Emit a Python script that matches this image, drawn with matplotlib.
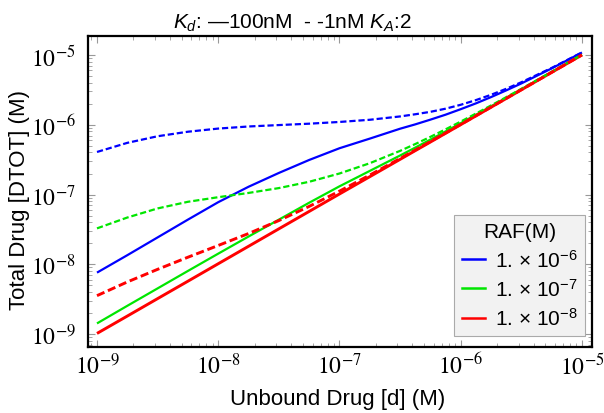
import matplotlib
matplotlib.use('Agg')
import matplotlib.pyplot as plt
from matplotlib.ticker import FixedLocator, LogLocator, NullFormatter
from matplotlib.lines import Line2D

# ---- data ----
unbound_drug = [1.0e-9, 1.778e-9, 3.162e-9, 5.623e-9, 1.0e-8, 1.778e-8, 3.162e-8, 5.623e-8,
                1.0e-7, 1.778e-7, 3.162e-7, 4.217e-7, 5.623e-7, 7.499e-7, 1.0e-6, 1.334e-6,
                1.778e-6, 2.371e-6, 3.162e-6, 5.623e-6, 1.0e-5]

# Kd = 100 nM (solid)
raf1e6_kd100 = [7.59e-9, 1.349e-8, 2.427e-8, 4.365e-8, 7.762e-8, 1.291e-7, 2.037e-7, 3.126e-7,
                4.603e-7, 6.324e-7, 8.770e-7, 1.012e-6, 1.183e-6, 1.393e-6, 1.671e-6, 2.023e-6,
                2.489e-6, 3.105e-6, 3.908e-6, 6.412e-6, 1.084e-5]
raf1e7_kd100 = [1.42e-9, 2.538e-9, 4.512e-9, 8.023e-9, 1.42e-8, 2.498e-8, 4.362e-8, 7.623e-8,
                1.31e-7, 2.178e-7, 3.622e-7, 4.702e-7, 6.128e-7, 8.019e-7, 1.0535e-6, 1.388e-6,
                1.834e-6, 2.428e-6, 3.219e-6, 5.681e-6, 1.0059e-5]
raf1e8_kd100 = [1.02e-9, 1.81e-9, 3.22e-9, 5.72e-9, 1.018e-8, 1.81e-8, 3.22e-8, 5.72e-8,
                1.017e-7, 1.80e-7, 3.19e-7, 4.25e-7, 5.65e-7, 7.53e-7, 1.003e-6, 1.337e-6,
                1.781e-6, 2.374e-6, 3.165e-6, 5.626e-6, 1.0003e-5]

# Kd = 1 nM (dashed)
raf1e6_kd1 = [4.07e-7, 5.50e-7, 6.84e-7, 7.94e-7, 8.81e-7, 9.44e-7, 9.89e-7, 1.035e-6,
              1.096e-6, 1.178e-6, 1.315e-6, 1.413e-6, 1.531e-6, 1.698e-6, 1.932e-6, 2.254e-6,
              2.685e-6, 3.273e-6, 4.064e-6, 6.516e-6, 1.089e-5]
raf1e7_kd1 = [3.27e-8, 4.677e-8, 6.316e-8, 7.862e-8, 9.15e-8, 1.053e-7, 1.236e-7, 1.522e-7,
              2.0e-7, 2.808e-7, 4.222e-7, 5.287e-7, 6.703e-7, 8.589e-7, 1.110e-6, 1.4435e-6,
              1.888e-6, 2.481e-6, 3.272e-6, 5.733e-6, 1.011e-5]
raf1e8_kd1 = [3.55e-9, 5.578e-9, 8.462e-9, 1.262e-8, 1.86e-8, 2.758e-8, 4.232e-8, 6.753e-8,
              1.117e-7, 1.898e-7, 3.284e-7, 4.340e-7, 5.747e-7, 7.624e-7, 1.0125e-6, 1.346e-6,
              1.791e-6, 2.384e-6, 3.175e-6, 5.636e-6, 1.0013e-5]

raf_labels = ["1. × 10$^{-6}$", "1. × 10$^{-7}$", "1. × 10$^{-8}$"]
raf_colors = ["#0000ff", "#00e600", "#ff0000"]
x_ticks = [1e-9, 1e-8, 1e-7, 1e-6, 1e-5]
x_tick_labels = [r"$10^{-9}$", r"$10^{-8}$", r"$10^{-7}$", r"$10^{-6}$", r"$10^{-5}$"]
y_ticks = [1e-9, 1e-8, 1e-7, 1e-6, 1e-5]
y_tick_labels = [r"$10^{-9}$", r"$10^{-8}$", r"$10^{-7}$", r"$10^{-6}$", r"$10^{-5}$"]

plt.rcParams['font.family'] = ['Liberation Sans', 'DejaVu Sans']
plt.rcParams['mathtext.fontset'] = 'custom'
plt.rcParams['mathtext.rm'] = 'Liberation Sans'
plt.rcParams['mathtext.it'] = 'Liberation Sans:italic'
plt.rcParams['mathtext.bf'] = 'Liberation Sans:bold'

fig = plt.figure(figsize=(6.04, 4.14), dpi=100)
ax = fig.add_axes([88/604, 1-348/414, (592-88)/604, (348-37)/414])
ax.set_xscale('log')
ax.set_yscale('log')

solid = [raf1e6_kd100, raf1e7_kd100, raf1e8_kd100]
dashed = [raf1e6_kd1, raf1e7_kd1, raf1e8_kd1]
lws = [1.6, 1.6, 2.1]
for ys, c, lw in zip(solid, raf_colors, lws):
    ax.plot(unbound_drug, ys, color=c, lw=lw, solid_capstyle='butt', solid_joinstyle='round')
for ys, c, lw in zip(dashed, raf_colors, lws):
    ax.plot(unbound_drug, ys, color=c, lw=lw, dashes=(2.8, 1.3))

ax.set_xlim(8.43e-10, 1.21e-5)
ax.set_ylim(6.52e-10, 1.87e-5)

ax.xaxis.set_major_locator(FixedLocator(x_ticks))
ax.yaxis.set_major_locator(FixedLocator(y_ticks))
ax.xaxis.set_minor_locator(LogLocator(base=10, subs=range(2, 10), numticks=20))
ax.yaxis.set_minor_locator(LogLocator(base=10, subs=range(2, 10), numticks=20))
ax.xaxis.set_minor_formatter(NullFormatter())
ax.yaxis.set_minor_formatter(NullFormatter())

ax.tick_params(which='both', direction='in', top=True, right=True, color='#999999')
ax.tick_params(which='major', length=5, width=0.8, labelsize=17)
ax.tick_params(which='minor', length=3, width=0.6)
ax.tick_params(axis='x', which='major', pad=4)
ax.tick_params(axis='y', which='major', pad=9)
ax.set_xticklabels(x_tick_labels, math_fontfamily='stix', fontsize=17)
ax.set_yticklabels(y_tick_labels, math_fontfamily='stix', fontsize=17)
for sp in ax.spines.values():
    sp.set_linewidth(1.6)
    sp.set_color('black')

handles = [Line2D([0], [0], color=c, lw=1.8) for c in raf_colors]
leg = ax.legend(handles, raf_labels, title="RAF(M)", loc='lower right',
                bbox_to_anchor=(0.986, 0.035), borderaxespad=0, fontsize=15,
                title_fontsize=15, frameon=True, fancybox=False, framealpha=1,
                handlelength=1.1, handletextpad=0.5, labelspacing=0.35,
                borderpad=0.35)
leg.get_frame().set_facecolor('#f2f2f2')
leg.get_frame().set_edgecolor('#aaaaaa')
leg.get_frame().set_linewidth(0.8)

fig.text(293/604, 1-29/414, "$K_d$: —100nM  - -1nM $K_A$:2", ha='center', va='baseline',
         fontsize=15)
fig.text(338/604, 1-400/414, "Unbound Drug [d] (M)", ha='center', va='center', fontsize=16)
fig.text(20/604, 1-200/414, "Total Drug [DTOT] (M)", ha='center', va='center',
         rotation=90, fontsize=16)

fig.savefig('out.png', dpi=100)
